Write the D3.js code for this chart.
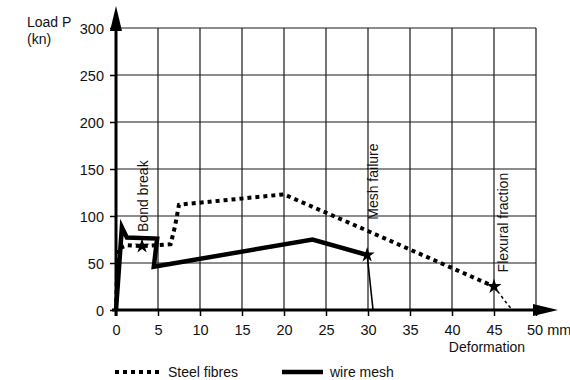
<!DOCTYPE html>
<html>
<head>
<meta charset="utf-8">
<script src="https://cdn.jsdelivr.net/npm/d3@7"></script>
<style>
  body { margin: 0; background: #fff; }
  svg { font-family: "Liberation Sans", Arial, sans-serif; }
</style>
</head>
<body>
<div id="chart"></div>
<script>
const width = 570;
const height = 380;

// x ticks (mm) and y ticks (kN)
const xTicks = [0, 5, 10, 15, 20, 25, 30, 35, 40, 45, 50];
const yTicks = [0, 50, 100, 150, 200, 250, 300];

// steel fibres (dotted)
const steelX = [0, 0.2, 1.3, 3.1, 6.5, 7.0, 7.5, 20, 30, 45];
const steelY = [0, 65, 69, 68, 70, 88, 112, 123, 84, 25];
const steelTailX = [45, 46.7, 47.2];
const steelTailY = [25, 5, 0];

// wire mesh (solid)
const meshX = [0, 0.7, 1.3, 4.9, 4.5, 23.4, 29.9];
const meshY = [0, 88, 77, 76, 46, 75, 58.5];
const meshTailX = [29.9, 30.6];
const meshTailY = [58.5, 0];

// annotations
const noteLabels = ["Bond break", "Mesh failure", "Flexural fraction"];
const noteX = [3.1, 29.9, 45];
const noteY = [68, 58.5, 25];
const noteTextX = [3.8, 31.2, 46.7];
const noteTextY = [83, 96, 40];

const x = d3.scaleLinear().domain([0, 50]).range([116, 536]);
const y = d3.scaleLinear().domain([0, 300]).range([310, 28]);

const svg = d3.select("#chart").append("svg")
  .attr("width", width)
  .attr("height", height);

// grid
const grid = svg.append("g").attr("stroke", "#1a1a1a").attr("stroke-width", 1.2);
xTicks.slice(1).forEach(t => {
  grid.append("line")
    .attr("x1", x(t)).attr("x2", x(t))
    .attr("y1", y(0)).attr("y2", y(300));
});
yTicks.slice(1).forEach(t => {
  grid.append("line")
    .attr("x1", x(0)).attr("x2", x(50))
    .attr("y1", y(t)).attr("y2", y(t));
});

// axes
const xAxis = svg.append("g")
  .attr("transform", "translate(0," + y(0) + ")")
  .call(d3.axisBottom(x).tickValues(xTicks).tickSize(6).tickFormat(d => d === 50 ? "" : d));
const yAxis = svg.append("g")
  .attr("transform", "translate(" + x(0) + ",0)")
  .call(d3.axisLeft(y).tickValues(yTicks).tickSize(6));

[xAxis, yAxis].forEach(a => {
  a.select(".domain").remove();
  a.selectAll(".tick line").attr("stroke", "#000").attr("stroke-width", 1.5);
  a.selectAll(".tick text")
    .attr("fill", "#111")
    .attr("font-size", 14.5)
    .attr("font-family", "Liberation Sans, Arial, sans-serif");
});
xAxis.selectAll(".tick text").attr("dy", null).attr("y", 25);
yAxis.selectAll(".tick text").attr("x", -12).attr("dy", "0.35em");

// axis lines with arrows
svg.append("line")
  .attr("x1", x(0) - 4).attr("x2", 540)
  .attr("y1", y(0)).attr("y2", y(0))
  .attr("stroke", "#000").attr("stroke-width", 3);
svg.append("path")
  .attr("d", `M533,${y(0) - 6}L558,${y(0)}L533,${y(0) + 6}Z`)
  .attr("fill", "#000");
svg.append("line")
  .attr("x1", x(0)).attr("x2", x(0))
  .attr("y1", y(0) + 6).attr("y2", 26)
  .attr("stroke", "#000").attr("stroke-width", 3);
svg.append("path")
  .attr("d", `M${x(0) - 6},31L${x(0)},6L${x(0) + 6},31Z`)
  .attr("fill", "#000");

svg.append("text")
  .attr("x", x(50) - 9).attr("y", y(0) + 25)
  .attr("font-size", 14.5).attr("fill", "#111")
  .text("50 mm");

// axis titles
svg.append("text").attr("x", 27).attr("y", 27).attr("font-size", 14).attr("fill", "#111").text("Load P");
svg.append("text").attr("x", 27).attr("y", 44).attr("font-size", 14).attr("fill", "#111").text("(kn)");
svg.append("text").attr("x", 487).attr("y", 352).attr("font-size", 14)
  .attr("text-anchor", "middle").attr("fill", "#111").text("Deformation");

const line = d3.line().x(d => x(d[0])).y(d => y(d[1]));

// series
svg.append("path")
  .datum(steelTailX.map((v, i) => [v, steelTailY[i]]))
  .attr("d", line).attr("fill", "none")
  .attr("stroke", "#000").attr("stroke-width", 1.5).attr("stroke-dasharray", "3,3");
svg.append("path")
  .datum(steelX.map((v, i) => [v, steelY[i]]))
  .attr("d", line).attr("fill", "none")
  .attr("stroke", "#000").attr("stroke-width", 4).attr("stroke-dasharray", "4,4");

svg.append("path")
  .datum(meshTailX.map((v, i) => [v, meshTailY[i]]))
  .attr("d", line).attr("fill", "none")
  .attr("stroke", "#000").attr("stroke-width", 1.6);
svg.append("path")
  .datum(meshX.map((v, i) => [v, meshY[i]]))
  .attr("d", line).attr("fill", "none")
  .attr("stroke", "#000").attr("stroke-width", 4.5).attr("stroke-linejoin", "miter");

// stars and notes
const star = d3.symbol().type(d3.symbolStar).size(70);
noteX.forEach((v, i) => {
  svg.append("path")
    .attr("d", star)
    .attr("transform", `translate(${x(v)},${y(noteY[i])})`)
    .attr("fill", "#000");
  svg.append("text")
    .attr("transform", `translate(${x(noteTextX[i])},${y(noteTextY[i])}) rotate(-90)`)
    .attr("font-size", 14).attr("fill", "#111")
    .text(noteLabels[i]);
});

// legend
svg.append("line")
  .attr("x1", 115).attr("x2", 162).attr("y1", 372).attr("y2", 372)
  .attr("stroke", "#000").attr("stroke-width", 4).attr("stroke-dasharray", "4,4");
svg.append("text").attr("x", 168).attr("y", 377).attr("font-size", 14).attr("fill", "#111").text("Steel fibres");
svg.append("line")
  .attr("x1", 282).attr("x2", 323).attr("y1", 372).attr("y2", 372)
  .attr("stroke", "#000").attr("stroke-width", 4.5);
svg.append("text").attr("x", 330).attr("y", 377).attr("font-size", 14).attr("fill", "#111").text("wire mesh");
</script>
</body>
</html>
